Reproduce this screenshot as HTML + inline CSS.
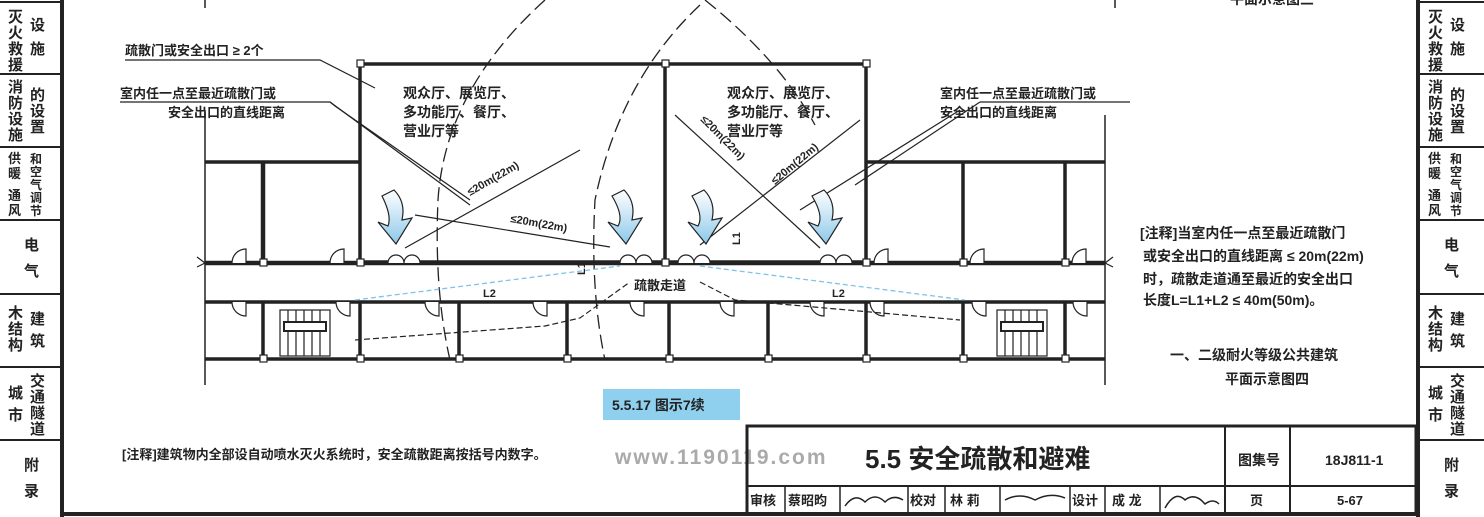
<!DOCTYPE html>
<html><head><meta charset="utf-8"><style>
html,body{margin:0;padding:0;background:#fff;}
svg{display:block;}
text{font-family:"Liberation Sans","Noto Sans CJK SC",sans-serif;font-weight:bold;fill:#222;}
</style></head><body>
<svg width="1484" height="517" viewBox="0 0 1484 517" xmlns="http://www.w3.org/2000/svg">
<defs>
<linearGradient id="bg" x1="0" y1="0" x2="0" y2="1"><stop offset="0" stop-color="#fff"/><stop offset="1" stop-color="#8cc8ea"/></linearGradient>
</defs>
<rect width="1484" height="517" fill="#fff"/>
<g stroke="#222" fill="none">
<line x1="62" y1="0" x2="62" y2="517" stroke-width="4"/>
<line x1="0" y1="2" x2="62" y2="2" stroke-width="2"/>
<line x1="0" y1="74" x2="62" y2="74" stroke-width="2"/>
<line x1="0" y1="147" x2="62" y2="147" stroke-width="2"/>
<line x1="0" y1="220" x2="62" y2="220" stroke-width="2"/>
<line x1="0" y1="294" x2="62" y2="294" stroke-width="2"/>
<line x1="0" y1="367" x2="62" y2="367" stroke-width="2"/>
<line x1="0" y1="440" x2="62" y2="440" stroke-width="2"/>
<line x1="1418" y1="0" x2="1418" y2="517" stroke-width="4"/>
<line x1="1418" y1="2" x2="1484" y2="2" stroke-width="2"/>
<line x1="1418" y1="74" x2="1484" y2="74" stroke-width="2"/>
<line x1="1418" y1="147" x2="1484" y2="147" stroke-width="2"/>
<line x1="1418" y1="220" x2="1484" y2="220" stroke-width="2"/>
<line x1="1418" y1="294" x2="1484" y2="294" stroke-width="2"/>
<line x1="1418" y1="367" x2="1484" y2="367" stroke-width="2"/>
<line x1="1418" y1="440" x2="1484" y2="440" stroke-width="2"/>
<line x1="62" y1="514" x2="1418" y2="514" stroke-width="4"/>
</g>
<g font-size="15">
<g id="sb">
<text x="8" y="22">灭</text><text x="8" y="38">火</text><text x="8" y="54">救</text><text x="8" y="70">援</text>
<text x="30" y="30">设</text><text x="30" y="54">施</text>
<text x="8" y="92">消</text><text x="8" y="108">防</text><text x="8" y="124">设</text><text x="8" y="140">施</text>
<text x="30" y="100">的</text><text x="30" y="116">设</text><text x="30" y="132">置</text>
<text x="8" y="163" font-size="13">供</text><text x="8" y="178" font-size="13">暖</text><text x="8" y="192" font-size="13">、</text><text x="8" y="200" font-size="13">通</text><text x="8" y="215" font-size="13">风</text>
<text x="30" y="163" font-size="12">和</text><text x="30" y="176" font-size="12">空</text><text x="30" y="189" font-size="12">气</text><text x="30" y="202" font-size="12">调</text><text x="30" y="215" font-size="12">节</text>
<text x="24" y="250">电</text><text x="24" y="276">气</text>
<text x="8" y="318">木</text><text x="8" y="334">结</text><text x="8" y="350">构</text>
<text x="30" y="324">建</text><text x="30" y="346">筑</text>
<text x="8" y="398">城</text><text x="8" y="420">市</text>
<text x="30" y="386">交</text><text x="30" y="402">通</text><text x="30" y="418">隧</text><text x="30" y="434">道</text>
<text x="24" y="470">附</text><text x="24" y="496">录</text>
</g>
<use href="#sb" x="1420"/>
</g>

<g stroke="#222" fill="none" stroke-width="1.5">
<line x1="205" y1="0" x2="205" y2="8"/>
<line x1="1115" y1="0" x2="1115" y2="8"/>
<line x1="205" y1="110" x2="205" y2="385"/>
<line x1="1105" y1="115" x2="1105" y2="385"/>
</g>
<text x="1230" y="4" font-size="14">平面示意图三</text>

<g stroke="#222" fill="none">
<rect x="360" y="64" width="506" height="198" stroke-width="3.5"/>
<line x1="665" y1="64" x2="665" y2="262" stroke-width="3.5"/>
<line x1="205" y1="162" x2="360" y2="162" stroke-width="3.5"/>
<line x1="866" y1="162" x2="1105" y2="162" stroke-width="3.5"/>
<line x1="263" y1="162" x2="263" y2="262" stroke-width="4.5"/>
<line x1="963" y1="162" x2="963" y2="262" stroke-width="3.5"/>
<line x1="1065" y1="162" x2="1065" y2="262" stroke-width="3.5"/>
<line x1="205" y1="263" x2="1105" y2="263" stroke-width="4.5"/>
<line x1="205" y1="302" x2="1105" y2="302" stroke-width="3.5"/>
<line x1="205" y1="359" x2="1105" y2="359" stroke-width="3.5"/>
<g stroke-width="3.5">
<line x1="263" y1="302" x2="263" y2="359"/>
<line x1="360" y1="302" x2="360" y2="359"/>
<line x1="459" y1="302" x2="459" y2="359"/>
<line x1="567" y1="302" x2="567" y2="359"/>
<line x1="669" y1="302" x2="669" y2="359"/>
<line x1="768" y1="302" x2="768" y2="359"/>
<line x1="866" y1="302" x2="866" y2="359"/>
<line x1="963" y1="302" x2="963" y2="359"/>
<line x1="1065" y1="302" x2="1065" y2="359"/>
</g>
<g stroke-width="1.2">
<rect x="280" y="310" width="50" height="46"/>
<line x1="288" y1="310" x2="288" y2="356"/><line x1="296" y1="310" x2="296" y2="356"/><line x1="304" y1="310" x2="304" y2="356"/><line x1="312" y1="310" x2="312" y2="356"/><line x1="320" y1="310" x2="320" y2="356"/>
<rect x="997" y="310" width="50" height="46"/>
<line x1="1005" y1="310" x2="1005" y2="356"/><line x1="1013" y1="310" x2="1013" y2="356"/><line x1="1021" y1="310" x2="1021" y2="356"/><line x1="1029" y1="310" x2="1029" y2="356"/><line x1="1037" y1="310" x2="1037" y2="356"/>
</g>
<rect x="284" y="322" width="42" height="9" stroke-width="2" fill="#fff"/>
<rect x="1001" y="322" width="42" height="9" stroke-width="2" fill="#fff"/>
<g stroke-width="1.2" fill="#fff">
<path d="M232 263 a14 14 0 0 1 14 -14 v14"/><path d="M330 263 a14 14 0 0 1 14 -14 v14"/>
<path d="M388 263 a8 8 0 0 1 16 0 a8 8 0 0 1 16 0"/><path d="M620 263 a8 8 0 0 1 16 0 a8 8 0 0 1 16 0"/>
<path d="M678 263 a8 8 0 0 1 16 0 a8 8 0 0 1 16 0"/><path d="M820 263 a8 8 0 0 1 16 0 a8 8 0 0 1 16 0"/>
<path d="M874 263 a14 14 0 0 1 14 -14 v14" /><path d="M970 263 a14 14 0 0 1 14 -14 v14"/><path d="M1072 263 a14 14 0 0 1 14 -14 v14"/>
<path d="M232 302 a14 14 0 0 0 14 14 v-14"/><path d="M336 302 a14 14 0 0 0 14 14 v-14"/>
<path d="M425 302 a14 14 0 0 0 14 14 v-14"/><path d="M533 302 a14 14 0 0 0 14 14 v-14"/>
<path d="M630 302 a14 14 0 0 0 14 14 v-14"/><path d="M720 302 a14 14 0 0 0 14 14 v-14"/>
<path d="M810 302 a14 14 0 0 0 14 14 v-14"/><path d="M870 302 a14 14 0 0 0 14 14 v-14"/>
<path d="M972 302 a14 14 0 0 0 14 14 v-14"/><path d="M1073 302 a14 14 0 0 0 14 14 v-14"/>
</g>
<path d="M205 263 l-8 -6 M205 263 l-8 4" stroke-width="1.2"/>
<path d="M1105 263 l8 -6 M1105 263 l8 4" stroke-width="1.2"/>
</g>
<g fill="#fff" stroke="#222" stroke-width="1.2">
<rect x="357" y="60" width="7" height="7"/><rect x="662" y="60" width="7" height="7"/><rect x="863" y="60" width="7" height="7"/>
<rect x="357" y="259" width="7" height="7"/><rect x="662" y="259" width="7" height="7"/><rect x="863" y="259" width="7" height="7"/>
<rect x="260" y="259" width="7" height="7"/><rect x="960" y="259" width="7" height="7"/><rect x="1062" y="259" width="7" height="7"/>
<rect x="260" y="355" width="7" height="7"/><rect x="357" y="355" width="7" height="7"/><rect x="456" y="355" width="7" height="7"/>
<rect x="564" y="355" width="7" height="7"/><rect x="666" y="355" width="7" height="7"/><rect x="765" y="355" width="7" height="7"/>
<rect x="863" y="355" width="7" height="7"/><rect x="960" y="355" width="7" height="7"/><rect x="1062" y="355" width="7" height="7"/>
</g>

<g stroke="#222" fill="none" stroke-width="1.3" stroke-dasharray="14 6">
<path d="M545 0 Q445 90 438 200 Q434 290 450 360"/>
<path d="M700 5 Q620 80 595 200 Q590 290 605 360"/>
<path d="M705 0 Q780 60 815 125"/>
</g>
<g stroke="#222" fill="none" stroke-width="1.2">
<line x1="405" y1="248" x2="580" y2="150"/>
<line x1="415" y1="215" x2="610" y2="247"/>
<line x1="675" y1="115" x2="820" y2="248"/>
<line x1="700" y1="245" x2="860" y2="120"/>
<line x1="800" y1="210" x2="960" y2="110"/>
<polyline points="125,60 320,60 375,88"/>
<polyline points="120,102 330,102 470,205"/>
<polyline points="330,102 335,106 470,200"/>
<polyline points="980,102 1130,102"/>
<line x1="980" y1="102" x2="855" y2="185"/>
<polyline points="355,340 545,326 580,318 630,282" stroke-dasharray="6 3"/>
<polyline points="700,282 735,300 960,320" stroke-dasharray="6 3"/>
</g>
<g stroke="#7fc3e8" stroke-width="1.3" stroke-dasharray="5 3" fill="none">
<line x1="355" y1="300" x2="620" y2="266"/>
<line x1="700" y1="266" x2="965" y2="300"/>
</g>
<g fill="url(#bg)" stroke="#222" stroke-width="1.2">
<path d="M382 196 q10 20 6 30 l-10 -4 l18 22 l16 -26 l-10 2 q4 -18 -8 -30 z"/>
<path d="M612 196 q12 20 6 30 l-10 -4 l18 22 l16 -26 l-10 2 q4 -18 -8 -30 z"/>
<path d="M692 196 q12 20 6 30 l-10 -4 l18 22 l16 -26 l-10 2 q4 -18 -8 -30 z"/>
<path d="M812 196 q12 20 6 30 l-10 -4 l18 22 l16 -26 l-10 2 q4 -18 -8 -30 z"/>
</g>

<g font-size="13">
<text x="125" y="55">疏散门或安全出口 ≥ 2个</text>
<text x="120" y="98">室内任一点至最近疏散门或</text>
<text x="168" y="117">安全出口的直线距离</text>
<text x="940" y="98">室内任一点至最近疏散门或</text>
<text x="940" y="117">安全出口的直线距离</text>
</g>
<g font-size="14">
<text x="403" y="98">观众厅、展览厅、</text>
<text x="403" y="117">多功能厅、餐厅、</text>
<text x="403" y="136">营业厅等</text>
<text x="727" y="98">观众厅、展览厅、</text>
<text x="727" y="117">多功能厅、餐厅、</text>
<text x="727" y="136">营业厅等</text>
<text x="634" y="290" font-size="13">疏散走道</text>
</g>
<g font-size="11" font-weight="normal">
<text transform="translate(470,196) rotate(-30)">≤20m(22m)</text>
<text transform="translate(510,222) rotate(10)">≤20m(22m)</text>
<text transform="translate(700,120) rotate(45)">≤20m(22m)</text>
<text transform="translate(775,185) rotate(-40)">≤20m(22m)</text>
<text x="483" y="297">L2</text><text x="832" y="297">L2</text>
<text transform="translate(585,275) rotate(-90)">L1</text>
<text transform="translate(740,245) rotate(-90)">L1</text>
</g>

<rect x="603" y="389" width="137" height="31" fill="#8fd0ef"/>
<text x="612" y="410" font-size="14">5.5.17 图示7续</text>

<g font-size="14">
<text x="1140" y="238">[注释]当室内任一点至最近疏散门</text>
<text x="1143" y="261">或安全出口的直线距离 ≤ 20m(22m)</text>
<text x="1143" y="284">时，疏散走道通至最近的安全出口</text>
<text x="1143" y="305">长度L=L1+L2 ≤ 40m(50m)。</text>
<text x="1170" y="360" font-size="14">一、二级耐火等级公共建筑</text>
<text x="1225" y="384" font-size="14">平面示意图四</text>
</g>

<text x="122" y="459" font-size="13">[注释]建筑物内全部设自动喷水灭火系统时，安全疏散距离按括号内数字。</text>
<text x="615" y="464" font-size="21" font-weight="normal" letter-spacing="2" style="fill:#aaa">www.1190119.com</text>

<g stroke="#222" fill="none">
<rect x="747" y="426" width="669" height="88" stroke-width="3"/>
<line x1="747" y1="486" x2="1416" y2="486" stroke-width="2"/>
<line x1="1225" y1="426" x2="1225" y2="514" stroke-width="2"/>
<line x1="1290" y1="426" x2="1290" y2="514" stroke-width="2"/>
<g stroke-width="1.5">
<line x1="785" y1="486" x2="785" y2="514"/><line x1="840" y1="486" x2="840" y2="514"/>
<line x1="908" y1="486" x2="908" y2="514"/><line x1="945" y1="486" x2="945" y2="514"/>
<line x1="1000" y1="486" x2="1000" y2="514"/><line x1="1070" y1="486" x2="1070" y2="514"/>
<line x1="1105" y1="486" x2="1105" y2="514"/><line x1="1160" y1="486" x2="1160" y2="514"/>
</g>
<path d="M845 506 q10 -14 20 -4 q10 -10 20 0 q8 -8 18 -2" stroke-width="1.5"/>
<path d="M1005 500 q15 -8 30 0 q15 -8 30 -2" stroke-width="1.5"/>
<path d="M1165 508 q10 -18 20 -8 q10 -8 20 4 q8 -6 14 0" stroke-width="1.5"/>
</g>
<text x="865" y="468" font-size="26">5.5  安全疏散和避难</text>
<text x="1238" y="465" font-size="14">图集号</text>
<text x="1325" y="465" font-size="14" font-weight="normal">18J811-1</text>
<g font-size="13">
<text x="750" y="505">审核</text><text x="788" y="505">蔡昭昀</text>
<text x="910" y="505">校对</text><text x="950" y="505">林 莉</text>
<text x="1072" y="505">设计</text><text x="1112" y="505">成 龙</text>
<text x="1250" y="505">页</text><text x="1337" y="505" font-weight="normal">5-67</text>
</g>
</svg>
</body></html>
